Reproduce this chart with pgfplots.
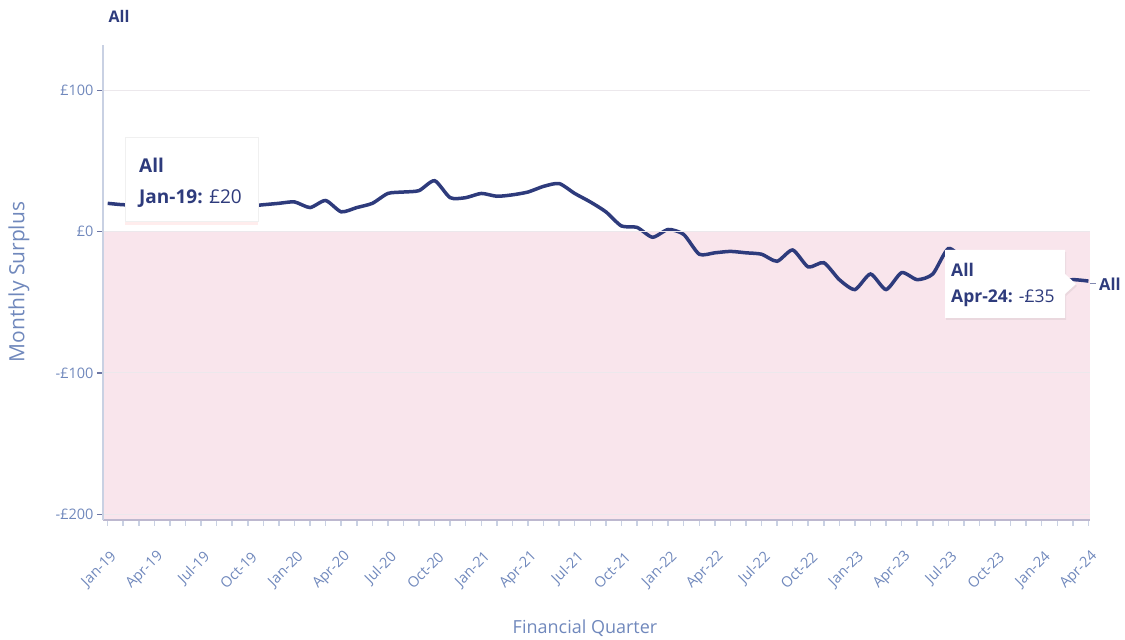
\documentclass[border=0pt]{standalone}
\usepackage{pgfplots}
\pgfplotsset{compat=1.18}
\usepackage{fontspec}
\setmainfont{Open Sans}
\usetikzlibrary{shadows}
\definecolor{navy}{HTML}{2E3B7C}
\definecolor{ticklab}{HTML}{7088BC}
\definecolor{pinkbg}{HTML}{F9E5EC}
\definecolor{yaxisc}{HTML}{C9D1E3}
\definecolor{xaxisc}{HTML}{BDB8CF}
\definecolor{gridc}{HTML}{ECE8EC}
\begin{document}
\begin{tikzpicture}
\path[use as bounding box] (0pt,0pt) rectangle (1125pt,640pt);
\begin{axis}[
  at={(103pt,120pt)}, anchor=south west,
  scale only axis, width=987pt, height=475pt,
  xmin=-0.3, xmax=63.1, ymin=-204, ymax=132,
  clip=false, axis on top,
  axis x line*=bottom, axis y line*=left,
  x axis line style={-, color=xaxisc, line width=2.5pt},
  y axis line style={-, color=yaxisc, line width=2pt},
  xtick={0,3,...,63},
  xticklabels={Jan-19,Apr-19,Jul-19,Oct-19,Jan-20,Apr-20,Jul-20,Oct-20,Jan-21,Apr-21,Jul-21,Oct-21,Jan-22,Apr-22,Jul-22,Oct-22,Jan-23,Apr-23,Jul-23,Oct-23,Jan-24,Apr-24},
  minor x tick num=2,
  ytick={-200,-100,0,100},
  yticklabels={-£200,-£100,£0,£100},
  tick align=outside,
  major tick length=6pt, minor tick length=6pt,
  xtick style={color=yaxisc, line width=1.5pt},
  ytick style={color=navy!70, line width=1.2pt},
  x tick label style={font=\fontsize{14.5}{16}\selectfont, color=ticklab, xshift=9pt, yshift=-26pt, rotate=45, anchor=east},
  y tick label style={font=\fontsize{14.5}{16}\selectfont, color=ticklab},
  ymajorgrids, grid style={color=gridc, line width=1pt},
]
\addplot[draw=none, fill=pinkbg] coordinates {(-0.3,0) (63.1,0) (63.1,-204) (-0.3,-204)} -- cycle;
\addplot[color=black!22, line width=1.5pt, dash pattern=on 5pt off 3pt] coordinates {(-0.3,0) (63.1,0)};
\addplot[color=navy, line width=3.5pt, smooth, tension=0.4] coordinates {
(0,20) (1,19) (2,19) (3,18) (4,19) (5,18) (6,19) (7,18) (8,18) (9,18)
(10,19) (11,20) (12,21) (13,17) (14,22) (15,14) (16,17) (17,20) (18,27) (19,28)
(20,29) (21,36) (22,24) (23,24) (24,27) (25,25) (26,26) (27,28) (28,32) (29,34)
(30,27) (31,21) (32,14) (33,4) (34,3) (35,-4) (36,1.5) (37,-2) (38,-16) (39,-15)
(40,-14) (41,-15) (42,-16) (43,-21) (44,-13) (45,-25) (46,-22) (47,-34) (48,-41) (49,-30)
(50,-41) (51,-29) (52,-34) (53,-30) (54,-12) (55,-20) (56,-28) (57,-32) (58,-30) (59,-34)
(60,-33) (61,-36) (62,-34) (63,-35)};
\end{axis}
% tooltips
\node[draw=black!6, fill=white, drop shadow={opacity=0.18, color=red!40, shadow xshift=0pt, shadow yshift=-4pt}, anchor=north west, minimum width=133pt, minimum height=84pt, inner sep=0pt] (t1) at (125pt,503pt) {};
\node[anchor=west, color=navy, font=\fontsize{19}{21}\selectfont\bfseries, inner sep=0pt] at (139pt,475pt) {All};
\node[anchor=west, color=navy, font=\fontsize{19}{21}\selectfont, inner sep=0pt] at (139pt,441pt) {\textbf{Jan-19:} £20};
\fill[white, drop shadow={opacity=0.12, shadow xshift=1pt, shadow yshift=-2pt}] (945pt,390pt) -- (1065pt,390pt) -- (1065pt,366pt) -- (1076pt,356pt) -- (1065pt,346pt) -- (1065pt,322pt) -- (945pt,322pt) -- cycle;
\node[anchor=west, color=navy, font=\fontsize{17.5}{19}\selectfont\bfseries, inner sep=0pt] at (951pt,370pt) {All};
\node[anchor=west, color=navy, font=\fontsize{17.5}{19}\selectfont, inner sep=0pt] at (951pt,342pt) {\textbf{Apr-24:} -£35};
\draw[navy!60, line width=1pt] (1090pt,356pt) -- (1096pt,356pt);
\node[anchor=west, color=navy, font=\fontsize{16.5}{18}\selectfont\bfseries, inner sep=0pt] at (1099pt,356pt) {All};
% titles
\node[color=navy, font=\fontsize{16}{18}\selectfont\bfseries] at (119pt,624pt) {All};
\node[rotate=90, color=ticklab, font=\fontsize{21}{23}\selectfont] at (19pt,358pt) {Monthly Surplus};
\node[color=ticklab, font=\fontsize{18}{20}\selectfont] at (585pt,12pt) {Financial Quarter};
\end{tikzpicture}
\end{document}
